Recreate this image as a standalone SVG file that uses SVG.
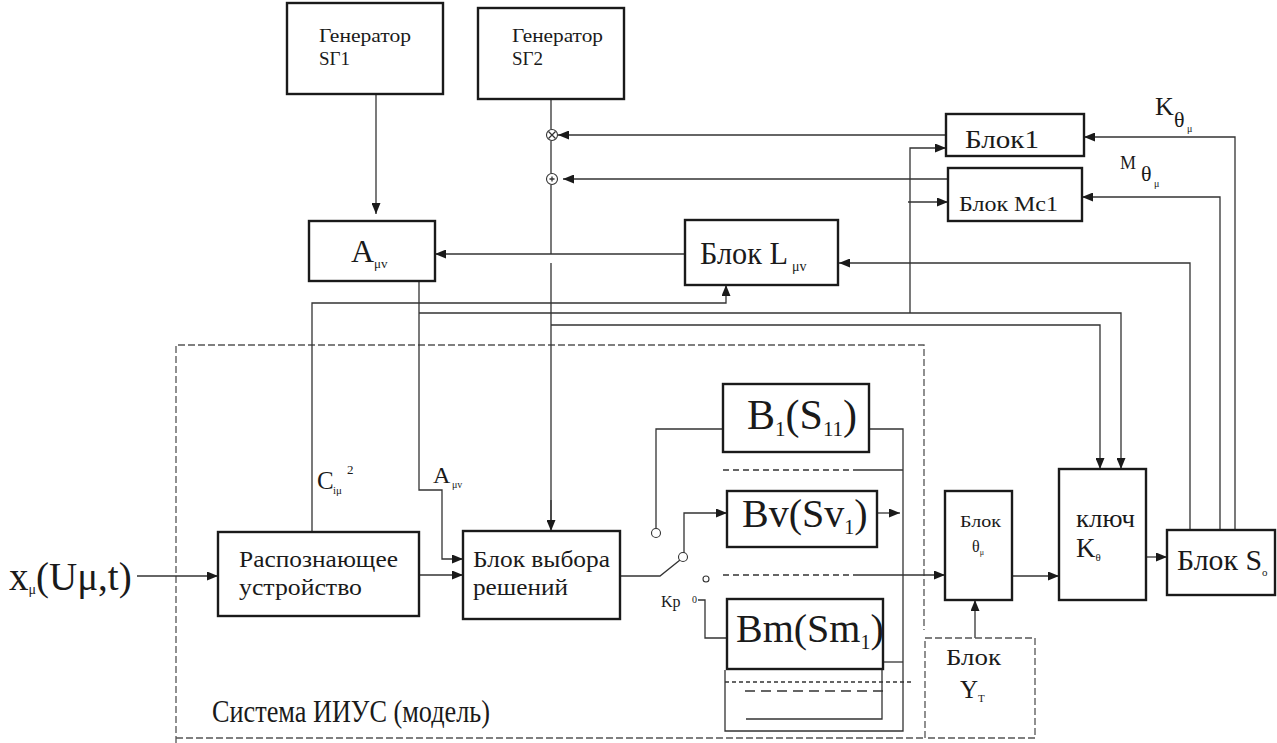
<svg xmlns="http://www.w3.org/2000/svg" width="1277" height="743" viewBox="0 0 1277 743">
<style>
.box{fill:#fff;stroke:#1a1a1a;stroke-width:2.4}
.dbox{fill:none;stroke:#555;stroke-width:1.3;stroke-dasharray:7 3}
.c{fill:none;stroke:#333;stroke-width:1.3}
.a{fill:none;stroke:#333;stroke-width:1.3;marker-end:url(#ah)}
.t{font-family:"Liberation Serif","Times New Roman",serif;fill:#1a1a1a}
.sym{fill:#fff;stroke:#333;stroke-width:1.1}
</style>
<defs>
<marker id="ah" viewBox="0 0 11 9" refX="11" refY="4.5" markerWidth="11" markerHeight="9" markerUnits="userSpaceOnUse" orient="auto">
<path d="M0,0 L11,4.5 L0,9 z" fill="#1a1a1a"/>
</marker>
</defs>
<rect width="1277" height="743" fill="#fff"/>

<g id="system">
<path class="dbox" d="M176,743 V345 H924 V630"/>
<path class="dbox" d="M176,738 H925"/>
<text class="t" x="212" y="722" font-size="31" textLength="278" lengthAdjust="spacingAndGlyphs">Система ИИУС (модель)</text>
</g>

<g id="connectors">
<path class="a" d="M376,94 V214"/>
<path class="c" d="M551,99 V129.5 M551,140.5 V173.5 M551,184.5 V254 M551,263 V520"/>
<path class="a" d="M551,500 V531"/>
<path class="a" d="M946,135 H558"/>
<path class="a" d="M948,179 H563"/>
<path class="a" d="M685,254 H435"/>
<path class="a" d="M1190,530 V263 H839"/>
<path class="a" d="M1220,530 V197 H1082"/>
<path class="a" d="M1235,530 V137 H1084"/>
<path class="a" d="M910,313 V148 H946"/>
<path class="a" d="M908,202 H948"/>
<path class="a" d="M419,281 V490 H442 V559 H463"/>
<path class="a" d="M419,313 H1121 V469"/>
<path class="a" d="M551,325 H1100 V469"/>
<path class="a" d="M312,532 V303 H726 V285"/>
<path class="a" d="M137,576 H218"/>
<path class="a" d="M419,575 H463"/>
<path class="c" d="M620,576 H660 L680,560"/>
<path class="a" d="M684,553 V513 H727"/>
<path class="c" d="M656,529 V429 H723"/>
<path class="c" d="M698,600 H705 V638 H727"/>
<path class="c" d="M869,429 H903 V731 H725 V670"/>
<path class="c" d="M723,470 H853" stroke-dasharray="6 4"/>
<path class="c" d="M853,470 H903"/>
<path class="a" d="M877,513 H900"/>
<path class="c" d="M723,575 H853" stroke-dasharray="6 4"/>
<path class="a" d="M853,575 H945"/>
<path class="c" d="M883,662 H903"/>
<path class="c" d="M882,669 V719 H746"/>
<path class="c" d="M725,682 H913" stroke-dasharray="4 3"/>
<path class="c" d="M745,691 H885" stroke-dasharray="10 6"/>
<path class="a" d="M1012,576 H1059"/>
<path class="a" d="M975,638 V600"/>
<path class="a" d="M1146,557 H1167"/>
<circle class="sym" cx="683" cy="557" r="4.5"/>
<circle class="sym" cx="656" cy="533" r="4.5"/>
<circle class="sym" cx="706" cy="579" r="3"/>
<circle class="sym" cx="552" cy="135" r="5.5"/>
<path class="c" d="M548.5,131.5 L555.5,138.5 M555.5,131.5 L548.5,138.5" stroke-width="1"/>
<circle class="sym" cx="552" cy="179" r="5.5"/>
<path class="c" d="M552,176.5 V181.5 M549.5,179 H554.5" stroke-width="0.9"/>
</g>

<g id="gen1">
<rect class="box" x="287" y="3" width="156" height="91"/>
<text class="t" x="319" y="42" font-size="19" textLength="92" lengthAdjust="spacingAndGlyphs">Генератор</text>
<text class="t" x="319" y="65" font-size="19">SГ1</text>
</g>
<g id="gen2">
<rect class="box" x="478" y="8" width="146" height="91"/>
<text class="t" x="512" y="42" font-size="19" textLength="91" lengthAdjust="spacingAndGlyphs">Генератор</text>
<text class="t" x="512" y="65" font-size="19">SГ2</text>
</g>

<g id="blok1">
<rect class="box" x="946" y="114" width="138" height="42"/>
<text class="t" x="965" y="148" font-size="26" textLength="74" lengthAdjust="spacingAndGlyphs">Блок1</text>
</g>
<g id="blokmc1">
<rect class="box" x="948" y="168" width="134" height="53"/>
<text class="t" x="959" y="211" font-size="20" textLength="99" lengthAdjust="spacingAndGlyphs">Блок Mc1</text>
</g>
<g id="labels-k-m">
<text class="t" x="1155" y="115" font-size="26">K</text>
<text class="t" x="1174" y="127" font-size="22">θ</text>
<text class="t" x="1187" y="132" font-size="10">μ</text>
<text class="t" x="1120" y="169" font-size="18">M</text>
<text class="t" x="1141" y="181" font-size="22">θ</text>
<text class="t" x="1154" y="187" font-size="10">μ</text>
</g>

<g id="amv">
<rect class="box" x="309" y="221" width="126" height="60"/>
<text class="t" x="351" y="262" font-size="32">A<tspan font-size="13" dy="6">μv</tspan></text>
</g>
<g id="blokL">
<rect class="box" x="685" y="220" width="153" height="65"/>
<text class="t" x="700" y="264" font-size="31" textLength="88" lengthAdjust="spacingAndGlyphs">Блок L</text>
<text class="t" x="792" y="271" font-size="14">μv</text>
</g>

<g id="input-label">
<text class="t" x="9" y="590" font-size="39">x<tspan font-size="14" dy="4">μ</tspan><tspan dy="-4">(Uμ,t)</tspan></text>
</g>
<g id="conn-labels">
<text class="t" x="317" y="489" font-size="25">C</text>
<text class="t" x="333" y="494" font-size="11">iμ</text>
<text class="t" x="347" y="474" font-size="13">2</text>
<text class="t" x="433" y="483" font-size="24">A</text>
<text class="t" x="452" y="488" font-size="10">μv</text>
<text class="t" x="661" y="607" font-size="16">Kp</text>
<text class="t" x="692" y="603" font-size="10">0</text>
</g>

<g id="raspozn">
<rect class="box" x="218" y="532" width="201" height="84"/>
<text class="t" x="239" y="567" font-size="23" textLength="159" lengthAdjust="spacingAndGlyphs">Распознающее</text>
<text class="t" x="239" y="595" font-size="23" textLength="123" lengthAdjust="spacingAndGlyphs">устройство</text>
</g>
<g id="vybor">
<rect class="box" x="463" y="531" width="157" height="88"/>
<text class="t" x="473" y="567" font-size="23" textLength="137" lengthAdjust="spacingAndGlyphs">Блок выбора</text>
<text class="t" x="473" y="595" font-size="23" textLength="95" lengthAdjust="spacingAndGlyphs">решений</text>
</g>

<g id="b1">
<rect class="box" x="723" y="384" width="146" height="68"/>
<text class="t" x="747" y="429" font-size="42">B<tspan font-size="21" dy="7">1</tspan><tspan dy="-7">(S</tspan><tspan font-size="21" dy="7">11</tspan><tspan dy="-7">)</tspan></text>
</g>
<g id="bv">
<rect class="box" x="727" y="491" width="150" height="56"/>
<text class="t" x="742" y="527" font-size="40">Bv(Sv<tspan font-size="20" dy="7">1</tspan><tspan dy="-7">)</tspan></text>
</g>
<g id="bm">
<rect class="box" x="727" y="599" width="156" height="70"/>
<text class="t" x="736" y="642" font-size="40">Bm(Sm<tspan font-size="20" dy="7">1</tspan><tspan dy="-7">)</tspan></text>
</g>

<g id="blokTheta">
<rect class="box" x="945" y="491" width="67" height="109"/>
<text class="t" x="960" y="527" font-size="16" textLength="41" lengthAdjust="spacingAndGlyphs">Блок</text>
<text class="t" x="972" y="552" font-size="16">θ<tspan font-size="8" dy="3">μ</tspan></text>
</g>
<g id="blokYT">
<rect class="dbox" x="925" y="638" width="110" height="100"/>
<text class="t" x="946" y="665" font-size="24" textLength="55" lengthAdjust="spacingAndGlyphs">Блок</text>
<text class="t" x="960" y="698" font-size="25">Y<tspan font-size="11" dy="4">T</tspan></text>
</g>
<g id="kluch">
<rect class="box" x="1059" y="469" width="87" height="131"/>
<text class="t" x="1076" y="527" font-size="25" textLength="59" lengthAdjust="spacingAndGlyphs">ключ</text>
<text class="t" x="1076" y="557" font-size="27">K<tspan font-size="11" dy="4">θ</tspan></text>
</g>
<g id="blokSo">
<rect class="box" x="1167" y="530" width="108" height="65"/>
<text class="t" x="1177" y="570" font-size="29" textLength="85" lengthAdjust="spacingAndGlyphs">Блок S</text>
<text class="t" x="1262" y="576" font-size="11">o</text>
</g>
</svg>
